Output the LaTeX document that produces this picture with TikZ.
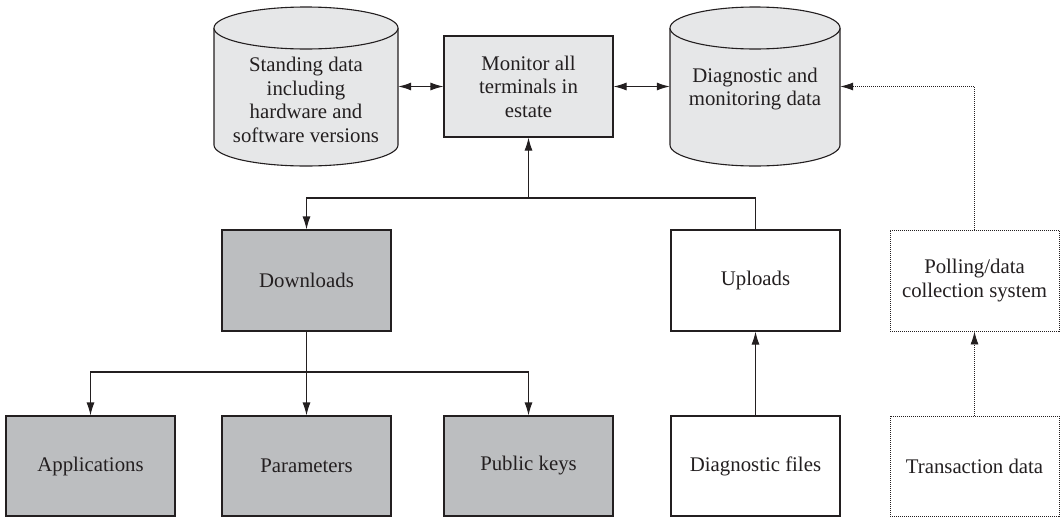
\documentclass[tikz,border=0pt]{standalone}
\usepackage{fontspec}
\setmainfont{Liberation Serif}
\newfontfamily\labelfont{Liberation Serif}
\usetikzlibrary{arrows.meta}
\definecolor{inkline}{HTML}{231F20}
\definecolor{lightfill}{HTML}{E6E7E8}
\definecolor{darkfill}{HTML}{BCBEC0}

% cylinder (data store): left, right, top, bottom; ellipse half-height 21
\newcommand{\dbdrum}[4]{%
  \filldraw[drumline] (#1,#3+21) -- (#1,#4-21)
    arc[start angle=180,end angle=0,x radius={(#2-#1)/2},y radius=21]
    -- (#2,#3+21);
  \filldraw[drumline] ({(#1+#2)/2},#3+21) ellipse [x radius={(#2-#1)/2},y radius=21];
}

\begin{document}
\begin{tikzpicture}[x=1pt,y=-1pt,
  every node/.style={font=\labelfont\fontsize{20.8}{23.5}\selectfont, text=inkline},
  drumline/.style={draw=inkline, fill=lightfill, line width=1.1pt},
  anchorbox/.style={draw=none, fill=none, inner sep=0pt, rectangle},
  lightbox/.style={draw=inkline, fill=lightfill, line width=1.1pt, minimum width=169pt, minimum height=101pt, align=center, inner sep=0pt},
  darkbox/.style={lightbox, fill=darkfill},
  plainbox/.style={lightbox, fill=white},
  dotbox/.style={lightbox, fill=white, line width=0.9pt, dash pattern=on 1pt off 1pt},
  conn/.style={draw=inkline, line width=1.1pt},
  tip/.style={-{Latex[length=13pt,width=8pt]}},
  bothtips/.style={{Latex[length=13pt,width=8pt]}-{Latex[length=13pt,width=8pt]}},
  dottedconn/.style={conn, line width=0.9pt, dash pattern=on 1pt off 1pt}
]
\useasboundingbox (0,0) rectangle (1064,517);

% data stores
\dbdrum{214}{398}{7}{166}
\dbdrum{670}{840}{7}{166}
\node[anchorbox, minimum width=184pt, minimum height=159pt] (sd) at (306,86.5) {};
\node[anchorbox, minimum width=170pt, minimum height=159pt] (dm) at (755,86.5) {};
\node[align=center] (sdtext) at (306,100) {Standing data\\including\\hardware and\\software versions};
\node[align=center] (dmtext) at (755,89) {Diagnostic and\\monitoring data};

% boxes
\node[lightbox] (mon) at (528.5,86.5) {Monitor all\\terminals in\\estate};
\node[darkbox] (dl) at (306.5,280.5) {Downloads};
\node[plainbox] (up) at (755.5,280.5) {Uploads};
\node[dotbox] (poll) at (974.5,280.5) {Polling/data\\collection system};
\node[darkbox, minimum height=100pt] (app) at (90.5,466) {Applications};
\node[darkbox, minimum height=100pt] (par) at (306.5,466) {Parameters};
\node[darkbox, minimum height=100pt] (pk) at (528.5,466) {Public keys};
\node[plainbox, minimum height=100pt] (df) at (755.5,466) {Diagnostic files};
\node[dotbox, minimum height=100pt] (tx) at (974.5,466) {Transaction data};

% junction points
\coordinate (jn) at (528.5,198);
\coordinate (br) at (306.5,372);
\coordinate (dmE) at (dm.east |- mon.east);

% connectors
\draw[conn, bothtips] (sd.east |- mon.west) -- (mon.west);
\draw[conn, bothtips] (mon.east) -- (dm.west |- mon.east);
\draw[conn, tip] (jn) -- (mon.south);
\draw[conn, tip] (up.north) |- (jn) -| (dl.north);
\draw[conn] (dl.south) -- (br);
\draw[conn, tip] (br) -| (app.north);
\draw[conn, tip] (br) -- (par.north);
\draw[conn, tip] (br) -| (pk.north);
\draw[conn, tip] (df.north) -- (up.south);
\draw[dottedconn, tip] (tx.north) -- (poll.south);
\draw[dottedconn, tip] (poll.north) |- (dmE);
\end{tikzpicture}
\end{document}
